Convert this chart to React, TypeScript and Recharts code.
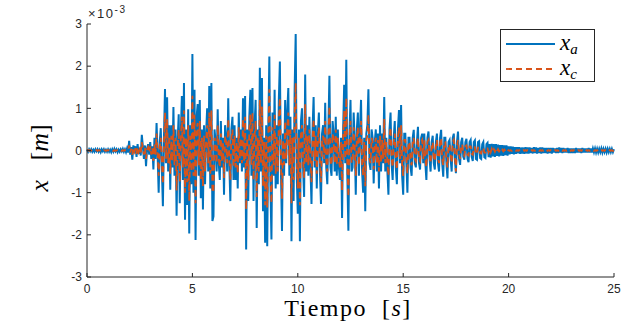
import { LineChart, Line, XAxis, YAxis } from "recharts";

// sampling step of the recorded signal, seconds
const T_STEP = 0.05;

// x_a, units of 1e-3 m, one row per second
const XA = [
  0.02, -0.03, 0.03, -0.02, 0.03, -0.03, 0.02, -0.03, 0.03, -0.02, 0.03, -0.03, 0.02, -0.04, 0.03, -0.02, 0.03, -0.03, 0.02, -0.03,
  0.03, -0.03, 0.02, -0.04, 0.03, -0.03, 0.04, -0.02, 0.03, -0.04, 0.02, -0.03, 0.03, -0.02, 0.04, -0.03, 0.03, -0.04, 0.05, -0.05,
  0.23, -0.1, 0.08, -0.22, 0.12, -0.05, 0.1, -0.15, 0.15, -0.08, 0.06, -0.12, 0.37, 0.1, -0.2, 0.12, -0.37, 0.05, 0.15, -0.1,
  0.2, -0.2, 0.1, -0.45, 0.3, -0.2, 0.65, -0.1, -1.0, 0.2, 0.53, -0.4, -1.32, 0.3, 1.46, -0.3, 1.26, -0.5, 0.6, -0.93,
  0.6, -0.4, 1.03, -0.6, 0.5, -1.55, 0.2, 0.86, -1.25, 0.4, 1.29, -0.7, 1.6, -1.64, 0.5, -1.29, 0.98, -1.97, 0.6, -0.8,
  2.29, -1.0, 1.44, -2.12, 0.8, 1.1, -0.6, 1.2, -1.13, 0.5, -1.4, 0.6, -0.8, 0.4, 1.0, -0.5, 1.53, -0.9, 1.6, -1.67,
  -1.56, 0.5, 0.2, -0.5, 0.98, -0.3, -0.7, 0.7, -0.4, 0.3, -1.05, 0.6, 0.3, -0.5, 1.24, -0.3, -1.2, 0.5, 0.8, -0.7,
  0.6, -0.7, 0.3, -0.9, 0.9, -0.3, 0.5, -0.5, 1.24, -0.4, 1.29, -2.35, 0.5, -1.2, 0.8, 1.44, -0.6, 1.48, -1.2, 0.6,
  1.2, -1.84, 0.5, -0.8, 1.96, -0.5, 1.72, -1.44, 0.3, -2.19, 0.6, -2.27, 0.5, 2.23, -0.8, -2.11, 0.9, -0.6, 1.44, -0.9,
  0.6, -0.8, 1.2, 2.11, -0.5, -1.91, 0.4, -0.6, 1.2, -0.3, 0.9, 1.48, -0.6, 0.8, -2.15, 0.5, -1.2, 1.44, 2.76, -0.6,
  -1.5, 0.5, -2.15, 0.7, 1.0, -0.4, -1.1, 1.8, -0.5, 0.6, -0.6, 0.8, -0.4, -1.27, 0.5, 1.27, -0.4, 0.6, -0.9, 0.4,
  0.9, -0.5, -1.27, 0.4, 0.6, -0.3, 1.13, -0.4, -0.8, 0.5, 1.77, -0.4, -0.6, 0.7, 0.4, -0.5, 0.8, -0.6, 0.5, -0.4,
  -0.7, 0.3, -1.6, 0.5, 1.56, -0.3, 2.15, -0.6, -1.9, 0.4, 1.2, -0.5, -0.4, 0.9, 0.2, -1.05, 0.5, 0.9, -0.6, 0.5,
  1.2, -0.5, -1.0, 0.3, -1.44, 0.4, 0.6, 1.45, -0.3, -0.46, 0.5, 0.3, -0.78, 0.2, 0.5, -0.5, 0.4, -0.9, 0.6, -0.5,
  0.4, -0.3, 1.27, -0.5, 0.3, -0.5, -1.05, 0.5, 0.9, -0.3, -0.7, 0.3, 0.7, -0.4, -0.8, 0.5, 0.96, -0.3, 1.08, -0.6,
  -1.05, 0.4, 0.4, -0.3, -1.0, 0.3, 0.3, -0.4, -0.6, 0.3, 0.49, -0.3, -0.4, 0.2, 0.56, -0.3, -0.45, 0.3, 0.4, -0.3,
  0.4, -0.3, -0.7, 0.3, 0.45, -0.2, -0.5, 0.2, 0.35, -0.3, -0.45, 0.2, 0.4, -0.3, -0.5, 0.3, 0.49, -0.3, -0.62, 0.3,
  0.3, -0.3, -0.66, 0.2, 0.25, -0.2, -0.5, 0.3, 0.4, -0.2, -0.54, 0.2, 0.45, -0.2, -0.34, 0.2, 0.3, -0.15, -0.22, 0.2,
  0.28, -0.2, -0.28, 0.2, 0.25, -0.15, -0.25, 0.2, 0.24, -0.2, -0.22, 0.2, 0.22, -0.18, -0.2, 0.15, 0.2, -0.16, -0.18, 0.15,
  0.18, -0.16, 0.15, -0.17, 0.16, -0.14, 0.15, -0.15, 0.15, -0.13, 0.14, -0.14, 0.13, -0.12, 0.13, -0.13, 0.12, -0.11, 0.12, -0.12,
  0.1, -0.09, 0.1, -0.08, 0.09, -0.09, 0.08, -0.08, 0.08, -0.07, 0.08, -0.08, 0.07, -0.07, 0.07, -0.08, 0.08, -0.07, 0.07, -0.07,
  0.07, -0.06, 0.06, -0.07, 0.08, -0.06, 0.07, -0.07, 0.06, -0.06, 0.07, -0.07, 0.07, -0.06, 0.06, -0.06, 0.06, -0.07, 0.06, -0.06,
  0.06, -0.07, 0.06, -0.05, 0.05, -0.06, 0.06, -0.06, 0.07, -0.05, 0.06, -0.06, 0.06, -0.05, 0.05, -0.05, 0.06, -0.06, 0.05, -0.06,
  0.05, -0.06, 0.05, -0.06, 0.06, -0.05, 0.05, -0.05, 0.05, -0.06, 0.06, -0.05, 0.05, -0.05, 0.05, -0.05, 0.06, -0.05, 0.05, -0.05,
  0.05, -0.04, 0.05, -0.05, 0.04, -0.05, 0.04, -0.04, 0.05, -0.05, 0.04, -0.04, 0.04, -0.05, 0.04, -0.04, 0.04, -0.04, 0.04, -0.04,
  0.03,
];

// x_c, same units
const XC = [
  0, 0.01, -0.01, 0.01, 0, -0.01, 0.01, -0.01, 0, 0.01, -0.01, 0.01, 0, -0.01, 0.01, -0.01, 0.01, 0, -0.01, 0.01,
  0, 0.01, -0.01, 0.01, 0, -0.01, 0.01, -0.01, 0, 0.01, -0.01, 0.01, 0, -0.01, 0.01, -0.01, 0.01, 0, -0.01, 0.01,
  0.12, -0.05, 0.04, -0.1, 0.06, -0.03, 0.05, -0.08, 0.08, -0.04, 0.03, -0.06, 0.2, 0.05, -0.1, 0.06, -0.2, 0.02, 0.08, -0.05,
  0.1, -0.1, 0.05, -0.25, 0.15, -0.1, 0.4, -0.05, -0.6, 0.1, 0.3, -0.25, -0.8, 0.15, 0.9, -0.2, 0.75, -0.3, 0.35, -0.55,
  0.35, -0.25, 0.6, -0.35, 0.3, -0.95, 0.1, 0.5, -0.75, 0.25, 0.8, -0.4, 0.95, -1.0, 0.3, -0.75, 0.6, -1.2, 0.35, -0.5,
  1.3, -0.6, 0.85, -1.25, 0.5, 0.65, -0.35, 0.7, -0.7, 0.3, -0.85, 0.35, -0.5, 0.25, 0.6, -0.3, 0.9, -0.55, 0.95, -1.0,
  -0.95, 0.3, 0.1, -0.3, 0.6, -0.2, -0.4, 0.4, -0.25, 0.2, -0.65, 0.35, 0.2, -0.3, 0.75, -0.2, -0.7, 0.3, 0.5, -0.4,
  0.35, -0.4, 0.2, -0.55, 0.55, -0.2, 0.3, -0.3, 0.75, -0.25, 0.8, -1.4, 0.3, -0.7, 0.5, 0.85, -0.35, 0.9, -0.7, 0.35,
  0.7, -1.1, 0.3, -0.5, 1.2, -0.3, 1.05, -0.85, 0.2, -1.3, 0.35, -1.35, 0.3, 1.45, -0.5, -1.25, 0.55, -0.35, 0.85, -0.55,
  0.35, -0.5, 0.7, 1.25, -0.3, -1.15, 0.25, -0.35, 0.7, -0.2, 0.55, 0.9, -0.35, 0.5, -1.25, 0.3, -0.7, 0.85, 1.6, -0.35,
  -0.9, 0.3, -1.3, 0.4, 0.6, -0.25, -0.65, 1.1, -0.3, 0.35, -0.35, 0.5, -0.25, -0.75, 0.3, 0.75, -0.25, 0.35, -0.55, 0.25,
  0.55, -0.3, -0.75, 0.25, 0.35, -0.2, 0.7, -0.25, -0.5, 0.3, 1.05, -0.25, -0.35, 0.4, 0.25, -0.3, 0.5, -0.35, 0.3, -0.25,
  -0.4, 0.2, -0.95, 0.3, 0.95, -0.2, 1.25, -0.35, -1.1, 0.25, 0.7, -0.3, -0.25, 0.55, 0.1, -0.6, 0.3, 0.55, -0.35, 0.3,
  0.7, -0.3, -0.6, 0.2, -0.85, 0.25, 0.35, 0.85, -0.2, -0.3, 0.3, 0.2, -0.45, 0.1, 0.3, -0.3, 0.25, -0.5, 0.35, -0.3,
  0.25, -0.2, 0.75, -0.3, 0.2, -0.3, -0.6, 0.3, 0.55, -0.2, -0.4, 0.2, 0.4, -0.25, -0.45, 0.3, 0.55, -0.2, 0.6, -0.35,
  -0.6, 0.25, 0.25, -0.2, -0.55, 0.2, 0.2, -0.25, -0.35, 0.2, 0.3, -0.2, -0.25, 0.1, 0.3, -0.2, -0.25, 0.2, 0.25, -0.2,
  0.25, -0.2, -0.4, 0.2, 0.25, -0.1, -0.3, 0.1, 0.2, -0.2, -0.25, 0.1, 0.25, -0.2, -0.3, 0.2, 0.3, -0.2, -0.35, 0.2,
  0.2, -0.2, -0.4, 0.1, 0.15, -0.1, -0.3, 0.2, 0.25, -0.1, -0.5, 0.1, 0.25, -0.1, -0.2, 0.1, 0.15, -0.08, -0.12, 0.1,
  0.12, -0.1, -0.12, 0.1, 0.1, -0.08, -0.1, 0.08, 0.08, -0.08, -0.08, 0.07, 0.07, -0.06, -0.07, 0.06, 0.06, -0.05, -0.05, 0.05,
  0.05, -0.04, 0.04, -0.04, 0.04, -0.03, 0.03, -0.03, 0.03, -0.03, 0.03, -0.02, 0.02, -0.02, 0.02, -0.02, 0.02, -0.02, 0.02, -0.01,
  0.01, -0.01, 0.01, -0.01, 0.01, -0.01, 0.01, -0.01, 0.01, -0.01, 0.01, -0.01, 0.01, -0.01, 0.01, -0.01, 0.01, -0.01, 0.01, -0.01,
  0.01, -0.01, 0.01, -0.01, 0.01, -0.01, 0.01, -0.01, 0.01, -0.01, 0.01, -0.01, 0.01, -0.01, 0.01, -0.01, 0.01, -0.01, 0.01, -0.01,
  0.01, -0.01, 0.01, -0.01, 0.01, -0.01, 0.01, -0.01, 0.01, -0.01, 0.01, -0.01, 0.01, -0.01, 0.01, -0.01, 0.01, -0.01, 0.01, -0.01,
  0.01, -0.01, 0.01, -0.01, 0.01, -0.01, 0.01, -0.01, 0.01, -0.01, 0.01, -0.01, 0.01, -0.01, 0.01, -0.01, 0.01, -0.01, 0.01, -0.01,
  0.01, -0.01, 0.01, -0.01, 0.01, -0.01, 0.01, -0.01, 0.01, -0.01, 0.01, -0.01, 0.01, -0.01, 0.01, -0.01, 0.01, -0.01, 0.01, -0.01,
  0,
];

const X_TICKS = [0, 5, 10, 15, 20, 25];
const Y_TICKS = [-3, -2, -1, 0, 1, 2, 3];

const BLUE = "#0072BD";
const ORANGE = "#D95319";
const AXIS = "#262626";
const SANS = "'Liberation Sans', Arial, sans-serif";
const SERIF = "'Liberation Serif', 'DejaVu Serif', serif";
const TICK_STYLE = { fontSize: 12, fill: AXIS, fontFamily: SANS };

const data = XA.map((v, i) => ({ t: +(i * T_STEP).toFixed(2), xa: v, xc: XC[i] }));

const LEGEND_ITEMS = [
  { color: BLUE, dash: undefined, sub: "a" },
  { color: ORANGE, dash: "6 4", sub: "c" },
];

function ChartLegend() {
  return (
    <div
      style={{
        position: "absolute",
        left: 500,
        top: 29,
        width: 93,
        height: 51,
        border: `1px solid ${AXIS}`,
        background: "#fff",
        fontFamily: SERIF,
        fontStyle: "italic",
        fontSize: 23,
        color: "#000",
      }}
    >
      {LEGEND_ITEMS.map((e, i) => (
        <div key={i} style={{ display: "flex", alignItems: "center", height: 25, marginTop: i === 0 ? 1 : 0 }}>
          <svg width={54} height={6} style={{ marginLeft: 5, flexShrink: 0 }}>
            <line x1={0} x2={49} y1={3} y2={3} stroke={e.color} strokeWidth={1.8} strokeDasharray={e.dash} />
          </svg>
          <span style={{ lineHeight: 1 }}>
            x<sub style={{ fontSize: 15, verticalAlign: "-4px" }}>{e.sub}</sub>
          </span>
        </div>
      ))}
    </div>
  );
}

export default function App() {
  return (
    <div style={{ position: "absolute", left: 0, top: 0, width: 631, height: 325, background: "#fff" }}>
      <LineChart width={631} height={325} data={data} margin={{ top: 24, right: 17, left: 0, bottom: 0 }}>
        <XAxis
          xAxisId="b"
          dataKey="t"
          type="number"
          domain={[0, 25]}
          ticks={X_TICKS}
          height={48}
          stroke={AXIS}
          tick={TICK_STYLE}
          tickSize={-4}
          tickMargin={11}
          interval={0}
        />
        <XAxis
          xAxisId="top"
          orientation="top"
          type="number"
          domain={[0, 25]}
          ticks={X_TICKS}
          height={0}
          stroke={AXIS}
          tick={false}
          tickSize={-4}
        />
        <YAxis
          yAxisId="l"
          type="number"
          domain={[-3, 3]}
          ticks={Y_TICKS}
          width={87}
          stroke={AXIS}
          tick={TICK_STYLE}
          tickSize={-4}
          tickMargin={9}
          interval={0}
        />
        <YAxis
          yAxisId="r"
          orientation="right"
          type="number"
          domain={[-3, 3]}
          ticks={Y_TICKS}
          width={0}
          stroke={AXIS}
          tick={false}
          tickSize={-4}
        />
        <Line
          xAxisId="b"
          yAxisId="l"
          dataKey="xa"
          name="x_a"
          stroke={BLUE}
          strokeWidth={2}
          dot={false}
          type="linear"
          isAnimationActive={false}
        />
        <Line
          xAxisId="b"
          yAxisId="l"
          dataKey="xc"
          name="x_c"
          stroke={ORANGE}
          strokeWidth={1.8}
          strokeDasharray="6 4"
          dot={false}
          type="linear"
          isAnimationActive={false}
        />
      </LineChart>
      <ChartLegend />
      <div style={{ position: "absolute", left: 88, top: 4, fontFamily: SANS, fontSize: 13, letterSpacing: 1.5, color: AXIS }}>
        ×10<sup style={{ fontSize: 10, verticalAlign: "5px" }}>-3</sup>
      </div>
      <div
        style={{
          position: "absolute",
          left: 348,
          top: 297,
          transform: "translateX(-50%)",
          fontFamily: SERIF,
          fontSize: 24,
          lineHeight: "22px",
          letterSpacing: 1.5,
          color: "#000",
          whiteSpace: "nowrap",
        }}
      >
        Tiempo&nbsp;&nbsp;[<i>s</i>]
      </div>
      <div
        style={{
          position: "absolute",
          left: 40,
          top: 158,
          transform: "translate(-50%, -50%) rotate(-90deg)",
          fontFamily: SERIF,
          fontSize: 26,
          color: "#000",
          whiteSpace: "nowrap",
        }}
      >
        <i>x</i>&nbsp;&nbsp;&nbsp;[<i>m</i>]
      </div>
    </div>
  );
}
